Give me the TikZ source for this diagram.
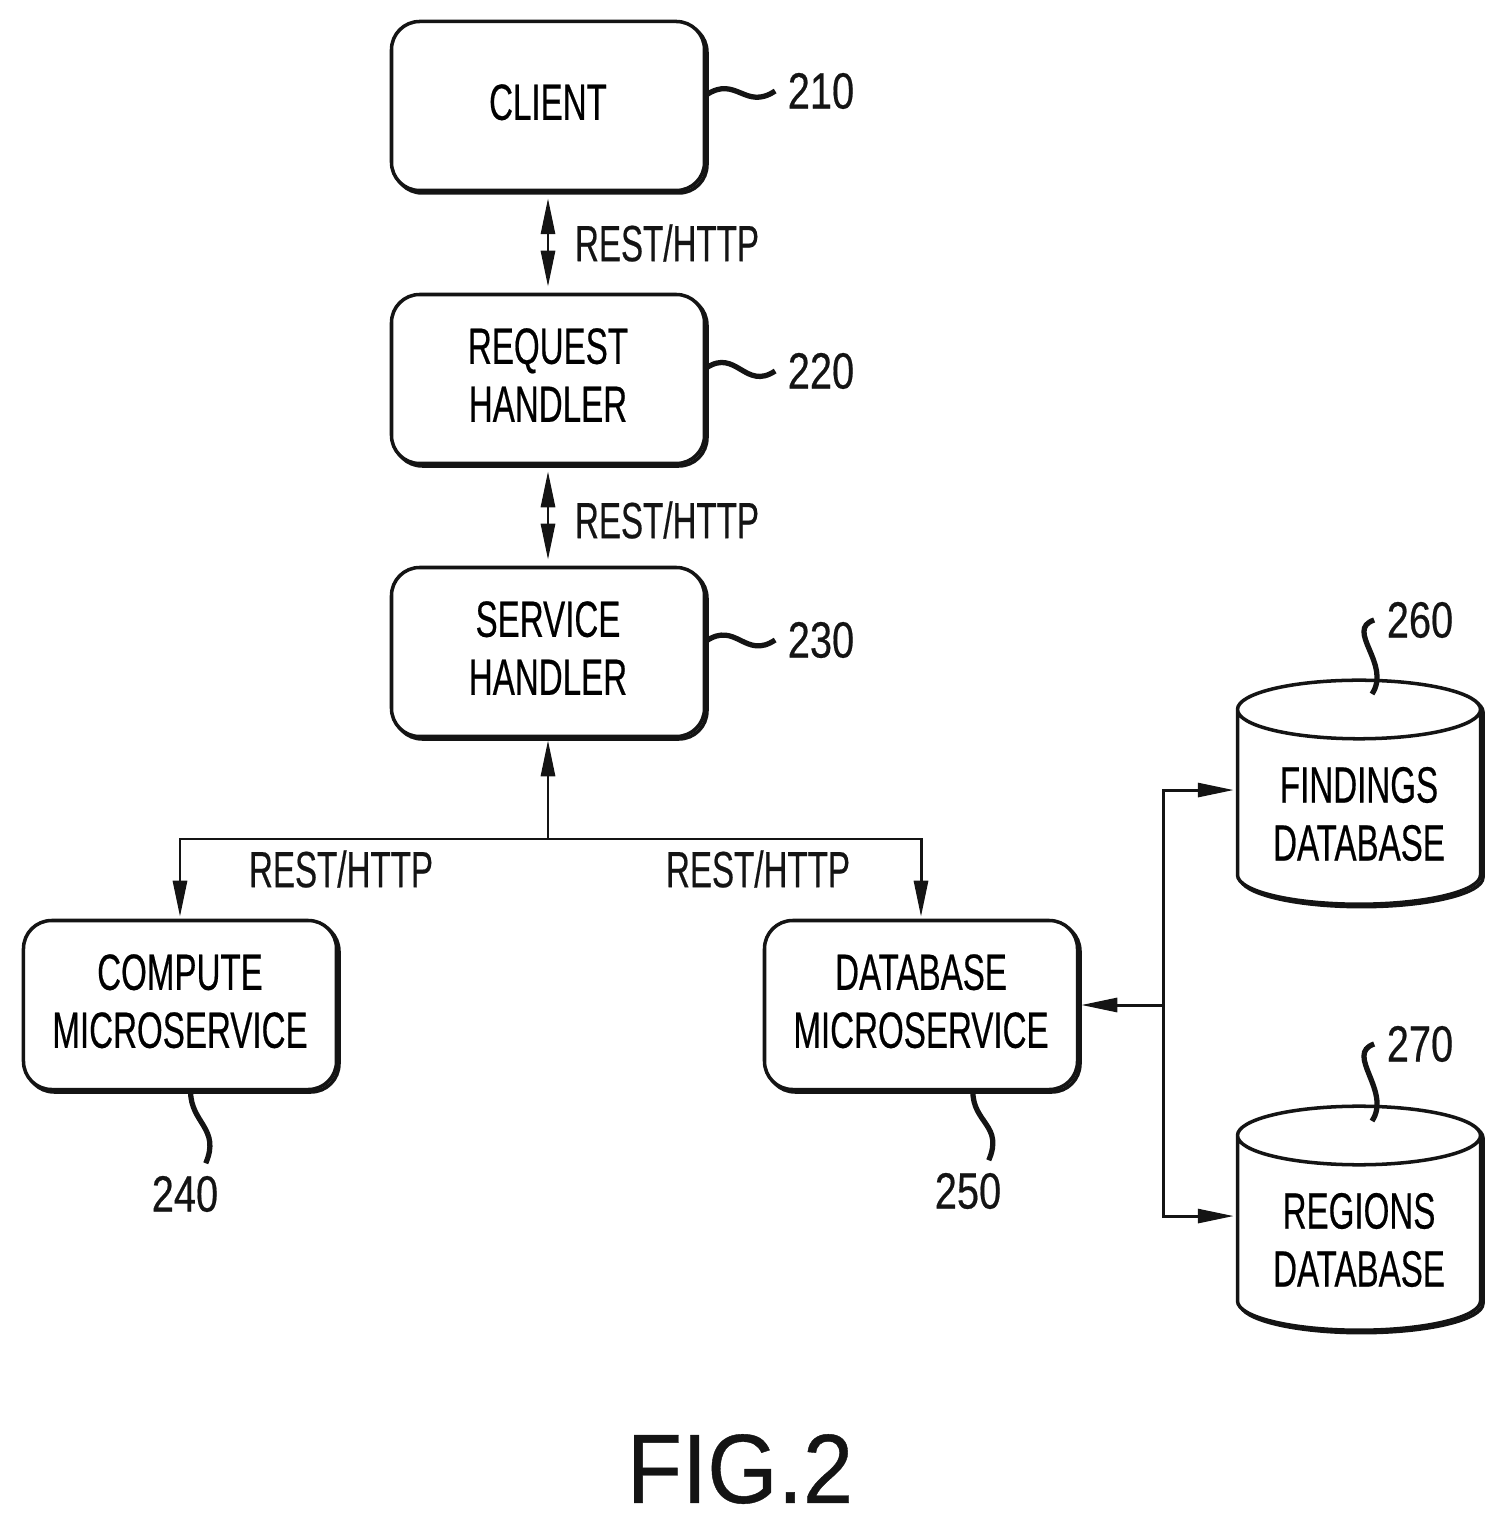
\documentclass[tikz,border=0pt]{standalone}
\usepackage{fontspec}
\setmainfont{Liberation Sans}[FakeStretch=0.65, FakeBold=0.4]
\newfontfamily\numfont{Liberation Sans}[FakeStretch=0.78, FakeBold=0.4]
\newfontfamily\figfont{Liberation Sans}[FakeStretch=0.92, FakeBold=0.4]
\usetikzlibrary{shapes.geometric, arrows.meta}
\definecolor{ink}{HTML}{141414}
\tikzstyle{service} = [rectangle, minimum width=3.13cm, minimum height=1.69cm, align=center, draw=ink, fill=white, line width=1pt, rounded corners=8pt, text depth=.08cm, font=\fontsize{14.5}{16.5}\selectfont, preaction={draw=ink, line width=1pt, transform canvas={shift={(.025,-.025)}}}]
\tikzstyle{store} = [cylinder, shape border rotate=90, aspect=.3, minimum width=2.43cm, minimum height=2.24cm, align=center, draw=ink, fill=white, line width=1pt, font=\fontsize{14.5}{16.5}\selectfont, preaction={draw=ink, line width=1pt, transform canvas={shift={(.025,-.025)}}}]
\tikzstyle{ref} = [inner sep=1.2mm, text=ink, font=\fontsize{14.5}{16.5}\numfont]
\tikzstyle{proto} = [inner sep=0pt, text=ink, font=\fontsize{14.5}{16.5}\selectfont]
\tikzstyle{squiggle} = [draw=ink, line width=1.5pt]
\tikzstyle{twoway} = [draw=ink, line width=.85pt, {Triangle[length=.36cm,width=.14cm]}-{Triangle[length=.36cm,width=.14cm]}, shorten <=.06cm, shorten >=.06cm]
\tikzstyle{oneway} = [draw=ink, line width=.85pt, -{Triangle[length=.36cm,width=.14cm]}, shorten >=.02cm]

\begin{document}
\begin{tikzpicture}[node distance=2.73cm]
		\useasboundingbox (-5.48,1.06) rectangle (9.56,-14.19);
		\node (client) [service] {CLIENT};
		\node (request) [service, below of=client] {REQUEST\\HANDLER};
		\node (handler) [service, below of=request] {SERVICE\\HANDLER};
		\node (compute) [service, below of=handler, yshift=-.8cm, xshift=-3.68cm] {COMPUTE\\MICROSERVICE};
		\node (database) [service, below of=handler, yshift=-.8cm, xshift=3.73cm] {DATABASE\\MICROSERVICE};
		\node (findings) [store, right of=database, xshift=1.65cm, yshift=1.91cm] {FINDINGS\\DATABASE};
		\node (regions) [store, below of=findings, yshift=-1.53cm] {REGIONS\\DATABASE};

		\node (ref210) [ref, right of=client, yshift=.15cm] {210};
		\node (ref220) [ref, right of=request, yshift=.08cm] {220};
		\node (ref230) [ref, right of=handler, yshift=.12cm] {230};
		\node (ref240) [ref, below of=compute, yshift=.84cm, xshift=.05cm] {240};
		\node (ref250) [ref, below of=database, yshift=.87cm, xshift=.47cm] {250};
		\node (ref260) [ref, right of=findings, node distance=.61cm, yshift=1.94cm] {260};
		\node (ref270) [ref, right of=regions, node distance=.61cm, yshift=1.96cm] {270};

		\node (rest1) [proto, right of=client, xshift=-1.54cm, yshift=-1.37cm] {REST/HTTP};
		\node (rest2) [proto, right of=request, xshift=-1.54cm, yshift=-1.41cm] {REST/HTTP};
		\node (rest3) [proto, below of=compute, xshift=1.61cm, yshift=4.09cm] {REST/HTTP};
		\node (rest4) [proto, below of=database, xshift=-1.63cm, yshift=4.09cm] {REST/HTTP};

		\node (figure) [inner sep=0pt, text=ink, font=\fontsize{28}{30}\figfont] at (1.92,-13.63) {FIG.2};

		\node (branch) [coordinate, below of=handler, node distance=1.87cm] {};
		\node (bus) [coordinate, right of=database, node distance=2.42cm] {};
		\coordinate (in260) at (8.24,-5.88);
		\coordinate (in270) at (8.24,-10.15);

		\draw [twoway] (client) -- (request);
		\draw [twoway] (request) -- (handler);
		\draw [oneway] (branch) -- (handler);
		\draw [oneway] (branch) -| (compute);
		\draw [oneway] (branch) -| (database);
		\draw [oneway] (bus) -- (database);
		\draw [oneway] (bus) |- (findings.169);
		\draw [oneway] (bus) |- (regions.169);

		\draw [squiggle] (client.4) .. controls +(.3,.2) and +(-.3,-.2) .. (ref210.west);
		\draw [squiggle] (request.4) .. controls +(.3,.2) and +(-.3,-.2) .. (ref220.west);
		\draw [squiggle] (handler.4) .. controls +(.3,.2) and +(-.3,-.2) .. (ref230.west);
		\draw [squiggle] (compute.-83) .. controls +(0,-.32) and +(.15,.35) .. (ref240.56);
		\draw [squiggle] (database.-59) .. controls +(0,-.32) and +(.15,.35) .. (ref250.56);
		\draw [squiggle] (ref260.west) .. controls +(-.3,-.1) and +(.2,.3) .. (in260);
		\draw [squiggle] (ref270.west) .. controls +(-.3,-.1) and +(.2,.3) .. (in270);
	\end{tikzpicture}
\end{document}
